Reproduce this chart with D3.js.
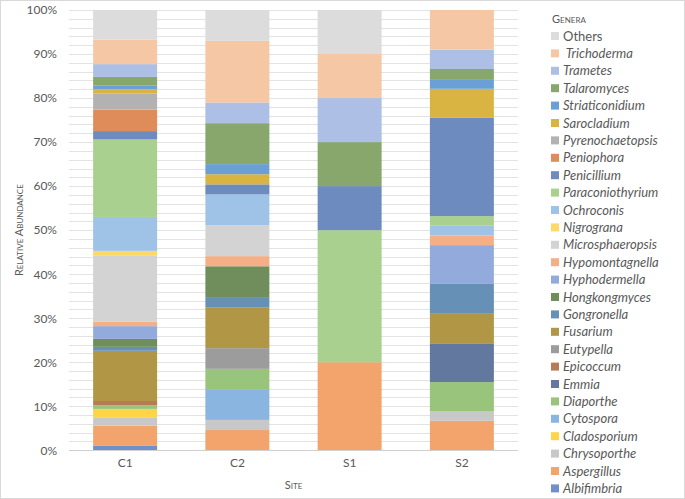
<!DOCTYPE html>
<html><head><meta charset="utf-8">
<script src="https://cdn.jsdelivr.net/npm/d3@7"></script>
<style>
body{margin:0;background:#fff;}
svg{display:block;font-family:Lato,"Open Sans",sans-serif;}
</style></head><body>
<svg id="chart" width="685" height="499"></svg>
<script>
const sites = ["C1","C2","S1","S2"];
const genera = ["Albifimbria","Aspergillus","Chrysoporthe","Cladosporium","Cytospora","Diaporthe","Emmia","Epicoccum","Eutypella","Fusarium","Gongronella","Hongkongmyces","Hyphodermella","Hypomontagnella","Microsphaeropsis","Nigrograna","Ochroconis","Paraconiothyrium","Penicillium","Peniophora","Pyrenochaetopsis","Sarocladium","Striaticonidium","Talaromyces","Trametes","Trichoderma","Others"];
const colors = ["#7090CC","#F3A36C","#C8C8C8","#FFD447","#8BB5E1","#98C47B","#63789F","#B97B55","#9C9C9C","#B09645","#6690B6","#6F8E5B","#92ABDC","#F5AF86","#D3D3D3","#FFD966","#9EC3E6","#A9D08E","#6E8BC0","#DF8C5A","#B2B2B2","#D9B443","#6AA0D6","#87A76D","#ADBFE4","#F6C7A5","#DCDCDC"];
// values in %, same order as genera (bottom to top)
const valuesC1 = [1.0,4.6,1.9,1.9,0,0.8,0,1.0,0,11.4,0.9,1.8,2.9,1.0,15.1,1.0,7.7,17.6,1.9,4.9,3.6,1.0,0.9,1.9,2.9,5.6,6.7];
const valuesC2 = [0,4.6,2.3,0,7.0,4.6,0,0,4.7,9.3,2.3,7.0,0,2.3,7.0,0,7.0,0,2.3,0,0,2.3,2.3,9.3,4.7,14.0,7.0];
const valuesS1 = [0,20,0,0,0,0,0,0,0,0,0,0,0,0,0,0,0,30,10,0,0,0,0,10,10,10,10];
const valuesS2 = [0,6.7,2.1,0,0,6.7,8.8,0,0,6.7,6.8,0,8.8,2.2,0,0,2.2,2.2,22.3,0,0,6.6,2.2,2.3,4.4,9.0,0];
const yTicks = [0,10,20,30,40,50,60,70,80,90,100];
const legendLabels = ["Others"," Trichoderma","Trametes","Talaromyces","Striaticonidium","Sarocladium","Pyrenochaetopsis","Peniophora","Penicillium","Paraconiothyrium","Ochroconis","Nigrograna","Microsphaeropsis","Hypomontagnella","Hyphodermella","Hongkongmyces","Gongronella","Fusarium","Eutypella","Epicoccum","Emmia","Diaporthe","Cytospora","Cladosporium","Chrysoporthe","Aspergillus","Albifimbria"];

const siteValues = [valuesC1,valuesC2,valuesS1,valuesS2];
const rows = sites.map((s,i)=>{const r={site:s}; genera.forEach((g,j)=>r[g]=siteValues[i][j]); return r;});

const svg = d3.select("#chart");
svg.append("rect").attr("x",0.5).attr("y",0.5).attr("width",684).attr("height",498)
  .attr("fill","#fff").attr("stroke","#D9D9D9");

const pLeft=69, pRight=518, pTop=10, pBottom=450.3;
const x = d3.scaleBand().domain(sites).range([pLeft,pRight]).paddingInner(0.43).paddingOuter(0.215);
const y = d3.scaleLinear().domain([0,100]).range([pBottom,pTop]);
const color = d3.scaleOrdinal().domain(genera).range(colors);

// gridlines every 2%
const grid = d3.range(2,101,2);
svg.append("g").selectAll("line").data(grid).join("line")
  .attr("x1",pLeft).attr("x2",pRight)
  .attr("y1",d=>Math.round(y(d))+0.5).attr("y2",d=>Math.round(y(d))+0.5)
  .attr("stroke","#E3E3E3").attr("stroke-width",1);

const stack = d3.stack().keys(genera);
const series = stack(rows);
svg.append("g").selectAll("g").data(series).join("g")
  .attr("fill",d=>color(d.key))
  .selectAll("rect").data(d=>d).join("rect")
  .attr("x",d=>x(d.data.site)).attr("width",x.bandwidth())
  .attr("y",d=>y(d[1])).attr("height",d=>Math.max(0,y(d[0])-y(d[1])));

// x axis line
svg.append("line").attr("x1",pLeft).attr("x2",pRight)
  .attr("y1",Math.round(pBottom)+0.5).attr("y2",Math.round(pBottom)+0.5)
  .attr("stroke","#D0D0D0");

// y axis labels
const yAxis = d3.axisLeft(y).tickValues(yTicks).tickFormat(d=>d+"%").tickSize(0).tickPadding(0);
const gy = svg.append("g").attr("transform",`translate(57,0)`).call(yAxis);
gy.select(".domain").remove();
gy.selectAll("text").attr("fill","#595959").style("font-size","12px").style("font-family","Lato, sans-serif");

// x axis labels
const xAxis = d3.axisBottom(x).tickSize(0).tickPadding(0);
const gx = svg.append("g").attr("transform",`translate(0,458)`).call(xAxis);
gx.select(".domain").remove();
gx.selectAll("text").attr("fill","#595959").style("font-size","12px").style("font-family","Lato, sans-serif");

// axis titles
svg.append("text").attr("x",(pLeft+pRight)/2).attr("y",489).attr("text-anchor","middle")
  .attr("fill","#595959").style("font-size","11px").style("font-variant","small-caps").text("Site");
svg.append("text").attr("transform",`translate(23,${(pTop+pBottom)/2}) rotate(-90)`).attr("text-anchor","middle")
  .attr("fill","#595959").style("font-size","11px").style("font-variant","small-caps").text("Relative Abundance");

// legend
const lg = svg.append("g");
lg.append("text").attr("x",552).attr("y",23).attr("fill","#595959")
  .style("font-size","11px").style("font-variant","small-caps").text("Genera");
const item = lg.selectAll("g.item").data(legendLabels).join("g").attr("class","item")
  .attr("transform",(d,i)=>`translate(551,${36+i*17.4})`);
item.append("rect").attr("x",0).attr("y",-4).attr("width",8).attr("height",8)
  .attr("fill",d=>color(d.trim()));
item.append("text").attr("x",12).attr("y",0).attr("dy","0.35em").attr("fill","#595959")
  .style("font-size","13px").style("font-style",d=>d==="Others"?"normal":"italic")
  .style("white-space","pre").text(d=>d);
</script>
</body></html>
